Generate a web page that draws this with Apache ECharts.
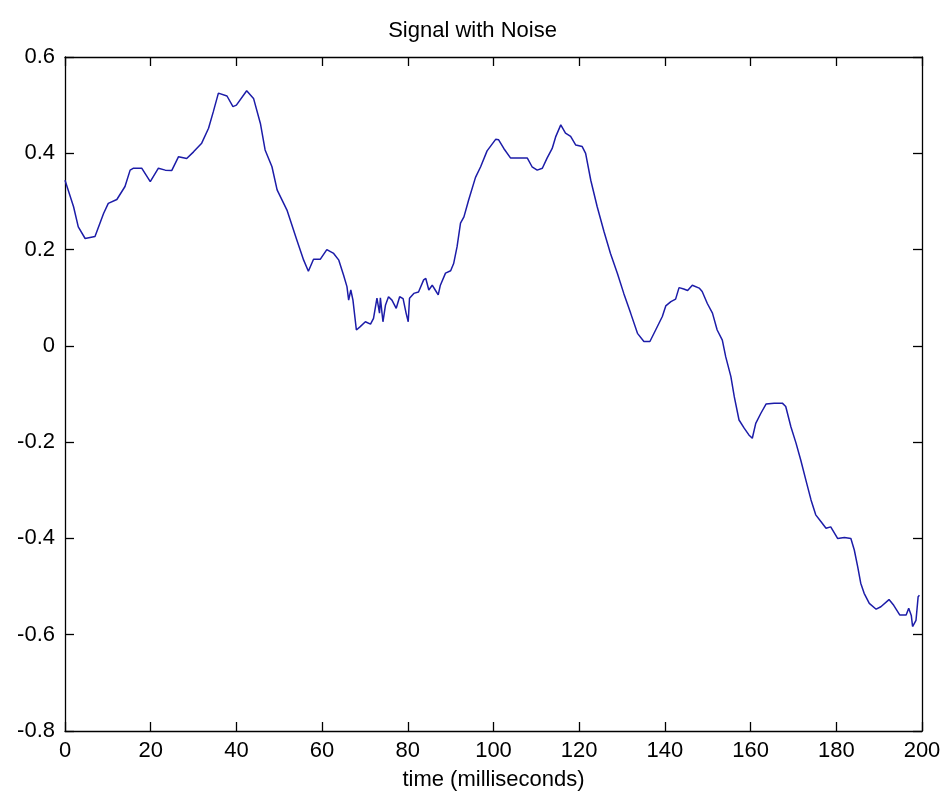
<!DOCTYPE html>
<html>
<head>
<meta charset="utf-8">
<style>
  html, body { margin: 0; padding: 0; background: #fff; }
  #myChart { width: 945px; height: 801px; }
</style>
<script src="https://cdn.jsdelivr.net/npm/echarts@6/dist/echarts.min.js"></script>
</head>
<body>
<div id="myChart"></div>
<script>
// time in ms
const times = [
  0, 2, 3.1, 4.7, 7, 9, 10.1, 12.1, 14, 15.2, 16, 17.9, 19.9, 21.8, 23.4, 24.9, 26.5, 28.4, 30, 31.9,
  33.5, 34.6, 35.8, 37.8, 39.2, 40, 42.4, 44, 45.6, 46.7, 48.3, 49.5, 51.8, 54.1, 55.7, 56.8, 58, 59.6,
  61.1, 62.7, 63.9, 65, 65.8, 66.2, 66.7, 67.2, 68, 68.9, 70.1, 71.3, 72, 72.8, 73.4, 73.6, 74.2, 74.8,
  75.5, 76.3, 77.3, 78.1, 78.9, 79.6, 80.1, 80.4, 81.4, 82.5, 83.7, 84.2, 84.9, 85.7, 86.4, 87.1, 87.6,
  88.8, 90, 90.7, 91.5, 92.3, 93.1, 94.2, 95.8, 97, 98.5, 100.5, 101.2, 102.4, 104, 107.9, 109, 110.2,
  111.4, 112.5, 113.7, 114.5, 115.7, 116.8, 118, 119.2, 120.7, 121.5, 122.7, 124.2, 125.8, 127.3, 128.9,
  130.4, 132, 133.6, 135.1, 136.5, 137.9, 139.4, 140.2, 141.4, 142.5, 143.3, 144.4, 145.3, 146.4, 148,
  148.7, 149.9, 151.1, 152.2, 153.4, 154.2, 155.4, 156.2, 157.3, 158.5, 159.6, 160.4, 161.2, 162.4,
  163.6, 165.5, 167.4, 168.2, 169.4, 170.6, 171.7, 172.9, 174.1, 175.2, 176.4, 177.6, 178.7, 180.3,
  181.9, 183.4, 184.2, 185, 185.7, 186.5, 187.7, 189.3, 190.4, 192.3, 193.4, 194.8, 196.3, 196.9,
  197.5, 197.8, 198.6, 199.1, 199.4
]
// signal value at each time
const signal = [
  0.344, 0.289, 0.247, 0.223, 0.227, 0.275, 0.296, 0.304, 0.331, 0.365, 0.369, 0.369, 0.341, 0.369, 0.365, 0.364, 0.393, 0.389, 0.403, 0.421,
  0.452, 0.486, 0.525, 0.519, 0.497, 0.5, 0.53, 0.514, 0.462, 0.407, 0.372, 0.324, 0.282, 0.22, 0.178, 0.155, 0.18, 0.18,
  0.2, 0.192, 0.178, 0.147, 0.123, 0.095, 0.116, 0.095, 0.033, 0.04, 0.05, 0.045, 0.057, 0.099, 0.068, 0.1, 0.05, 0.085,
  0.102, 0.095, 0.078, 0.102, 0.098, 0.068, 0.05, 0.099, 0.109, 0.112, 0.137, 0.14, 0.116, 0.126, 0.116, 0.106, 0.126,
  0.151, 0.156, 0.171, 0.206, 0.255, 0.268, 0.303, 0.35, 0.372, 0.405, 0.429, 0.428, 0.41, 0.39, 0.39, 0.372, 0.365,
  0.369, 0.39, 0.41, 0.434, 0.459, 0.442, 0.435, 0.417, 0.414, 0.4, 0.344, 0.289, 0.237, 0.192, 0.151,
  0.109, 0.068, 0.026, 0.009, 0.009, 0.034, 0.061, 0.083, 0.092, 0.097, 0.121, 0.118, 0.115, 0.126, 0.12,
  0.113, 0.088, 0.068, 0.033, 0.012, -0.023, -0.064, -0.106, -0.154, -0.171, -0.185, -0.192, -0.161, -0.14,
  -0.121, -0.119, -0.119, -0.126, -0.168, -0.202, -0.237, -0.279, -0.32, -0.351, -0.365, -0.379, -0.376, -0.4,
  -0.398, -0.4, -0.424, -0.459, -0.493, -0.514, -0.535, -0.547, -0.542, -0.527, -0.539, -0.559, -0.559, -0.545,
  -0.56, -0.583, -0.57, -0.521, -0.518
]
const xTicks = [0, 20, 40, 60, 80, 100, 120, 140, 160, 180, 200]
const yTicks = [-0.8, -0.6, -0.4, -0.2, 0, 0.2, 0.4, 0.6]

const font = 'Liberation Sans'
const points = times.map((t, i) => [t, signal[i]])

// frame + inward ticks, used on all four sides
const frame = {
  axisLine: { show: true, onZero: false, lineStyle: { color: '#000', width: 1.3 } },
  axisTick: { show: true, inside: true, length: 9, lineStyle: { color: '#000', width: 1.3 } },
  splitLine: { show: false },
}

let myChart = echarts.init(document.getElementById('myChart'))
myChart.setOption({
  backgroundColor: '#fff',
  animation: false,
  title: {
    text: 'Signal with Noise',
    left: 'center',
    top: 15,
    textStyle: { fontFamily: font, fontSize: 22, fontWeight: 'normal', color: '#000' },
  },
  grid: { left: 65, right: 23, top: 57, bottom: 70 },
  xAxis: [
    {
      type: 'value',
      min: xTicks[0],
      max: xTicks[xTicks.length - 1],
      interval: xTicks[1] - xTicks[0],
      name: 'time (milliseconds)',
      nameLocation: 'middle',
      nameGap: 38,
      nameTextStyle: { fontFamily: font, fontSize: 22, color: '#000' },
      axisLabel: { margin: 9, fontFamily: font, fontSize: 22, color: '#000' },
      ...frame,
    },
    { type: 'value', position: 'top', min: 0, max: 200, interval: 20, axisLabel: { show: false }, ...frame },
  ],
  yAxis: [
    {
      type: 'value',
      min: yTicks[0],
      max: yTicks[yTicks.length - 1],
      interval: 0.2,
      axisLabel: {
        margin: 10,
        fontFamily: font,
        fontSize: 22,
        color: '#000',
        formatter: (v) => String(parseFloat(v.toFixed(1))),
      },
      ...frame,
    },
    { type: 'value', position: 'right', min: -0.8, max: 0.6, interval: 0.2, axisLabel: { show: false }, ...frame },
  ],
  series: [
    {
      type: 'line',
      data: points,
      showSymbol: false,
      smooth: false,
      lineStyle: { color: '#1c1ca8', width: 1.5 },
    },
  ],
})
</script>
</body>
</html>
